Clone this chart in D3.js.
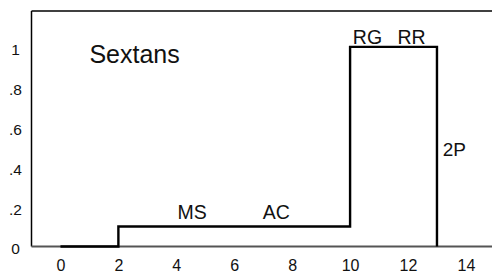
<!DOCTYPE html>
<html><head><meta charset="utf-8">
<script src="https://cdn.jsdelivr.net/npm/d3@7"></script>
<style>body{margin:0;background:#fff}text{font-family:"Liberation Sans",Arial,sans-serif;fill:#111}</style>
</head><body><svg id="c" width="492" height="274"></svg>
<script>
const stepX = [0, 2, 10, 13, 13];
const stepY = [0, 0.1, 1, 0, 0];
const xTicks = [0, 2, 4, 6, 8, 10, 12, 14];
const yTicks = [0, 0.2, 0.4, 0.6, 0.8, 1];
const yTickLabels = ["0", ".2", ".4", ".6", ".8", "1"];
const labelText = ["Sextans", "MS", "AC", "RG", "RR", "2P"];
const labelX = [1.0, 4.55, 7.45, 10.6, 12.12, 13.2];
const labelY = [0.92, 0.1375, 0.1375, 1.015, 1.015, 0.455];

const svg = d3.select("#c");
const L = 31.5, R = 492, T = 11, B = 246.5;
const x = d3.scaleLinear().domain([-1, 14.9]).range([L, R]);
const y = d3.scaleLinear().domain([0, 1.18]).range([B, T]);

// frame
svg.append("line").attr("x1", L).attr("x2", R).attr("y1", T).attr("y2", T).attr("stroke", "#000").attr("stroke-width", 1.5);
svg.append("line").attr("x1", L).attr("x2", L).attr("y1", T).attr("y2", B).attr("stroke", "#000").attr("stroke-width", 1.5);

// bottom axis line
svg.append("line").attr("x1", L).attr("x2", R).attr("y1", B).attr("y2", B).attr("stroke", "#555").attr("stroke-width", 2);

// step line
const pts = [];
for (let i = 0; i < stepX.length - 1; i++) {
  pts.push([stepX[i], stepY[i]]);
  pts.push([stepX[i + 1], stepY[i]]);
}
pts.push([stepX[stepX.length - 1], stepY[stepY.length - 1]]);
svg.append("path").datum(pts)
  .attr("d", d3.line().x(d => x(d[0])).y(d => y(d[1])))
  .attr("fill", "none").attr("stroke", "#000").attr("stroke-width", 2.4);

// x tick labels
const xAxis = d3.axisBottom(x).tickValues(xTicks).tickSize(0).tickPadding(13).tickFormat(d3.format("d"));
const gx = svg.append("g").attr("transform", `translate(0,${B})`).call(xAxis);
gx.select(".domain").remove();
gx.selectAll("text").attr("font-size", 16).attr("font-family", "Liberation Sans, Arial, sans-serif").attr("fill", "#111");

// y tick labels
const yAxis = d3.axisLeft(y).tickValues(yTicks).tickSize(0).tickPadding(0).tickFormat((d, i) => yTickLabels[i]);
const gy = svg.append("g").attr("transform", `translate(15.5,2.5)`).call(yAxis);
gy.select(".domain").remove();
gy.selectAll("text").attr("font-size", 15.5).attr("text-anchor", "middle").attr("font-family", "Liberation Sans, Arial, sans-serif").attr("fill", "#111");

// annotations
const anchors = ["start", "middle", "middle", "middle", "middle", "start"];
const sizes = [25, 19.5, 19.5, 19.5, 19.5, 19];
svg.selectAll("text.lab").data(labelText).enter().append("text").attr("class", "lab")
  .attr("x", (d, i) => x(labelX[i])).attr("y", (d, i) => y(labelY[i]))
  .attr("text-anchor", (d, i) => anchors[i]).attr("font-size", (d, i) => sizes[i])
  .text(d => d);
</script></body></html>
